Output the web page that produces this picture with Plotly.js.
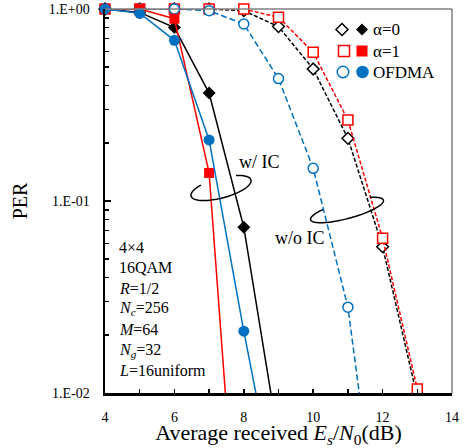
<!DOCTYPE html>
<html><head><meta charset="utf-8">
<script src="https://cdn.plot.ly/plotly-3.0.1.min.js"></script>
<style>html,body{margin:0;padding:0;background:#fff}</style>
</head><body><div id="c" style="width:465px;height:448px"></div>
<script>
// ---- data ----
const snrIC = [4, 5, 6, 7, 8, 9];
const alpha0_IC = [1, 0.96, 0.80, 0.365, 0.073, 0.0057];
const snrA1IC = [4, 5, 6, 7, 8];
const alpha1_IC = [1, 1, 0.89, 0.14, 0.0005];
const ofdma_IC = [1, 0.95, 0.687, 0.208, 0.021, 0.0025];
const snrNoIC = [4, 5, 6, 7, 8, 9, 10, 11, 12, 13];
const alpha0_noIC = [1, 1, 1, 1, 0.98, 0.81, 0.487, 0.212, 0.0578, 0.0095];
const alpha1_noIC = [1, 1, 1, 1, 1, 0.905, 0.595, 0.264, 0.064, 0.0105];
const snrOfdmaNoIC = [4, 5, 6, 7, 8, 9, 10, 11, 12];
const ofdma_noIC = [1, 1, 1, 0.98, 0.835, 0.434, 0.148, 0.028, 0.0012];
const yTickVals = [1, 0.1, 0.01];
const yTickText = ['1.E+00', '1.E-01', '1.E-02'];
const legendLabels = ['α=0', 'α=1', 'OFDMA'];
const paramLines = ['4×4', '16QAM', '<i>R</i>=1/2', '<i>N<sub>c</sub></i>=256', '<i>M</i>=64', '<i>N<sub>g</sub></i>=32', '<i>L</i>=16uniform'];

const BLUE = '#0070C0', RED = '#FF0000', BLACK = '#000000';
const YMIN = 0.01;
const FONT = 'Liberation Serif, Times New Roman, serif';

// plot area in pixels
const L = 105, R = 452, T = 9, B = 393, W = 465, H = 448;
const px = x => (x - L) / (R - L);
const py = y => (B - y) / (B - T);

function series(x, y, color, dash, symbol, filled, size) {
  const line = {x: x, y: y, mode: 'lines', type: 'scatter', showlegend: false, hoverinfo: 'skip',
    line: {color: color, width: 1.5, dash: dash}, cliponaxis: true};
  const mk = {x: x, y: y.map(v => v >= YMIN ? v : null), mode: 'markers', type: 'scatter', showlegend: false,
    cliponaxis: false,
    marker: {symbol: symbol, size: size, color: filled ? color : '#ffffff', line: {color: color, width: filled ? 0 : 1.5}}};
  return [line, mk];
}

const traces = [].concat(
  series(snrNoIC, alpha0_noIC, BLACK, '4px,2px', 'diamond', false, 9),
  series(snrNoIC, alpha1_noIC, RED, '4px,2px', 'square', false, 10),
  series(snrOfdmaNoIC, ofdma_noIC, BLUE, '6px,3px', 'circle', false, 10),
  series(snrIC, alpha0_IC, BLACK, 'solid', 'diamond', true, 10),
  series(snrA1IC, alpha1_IC, RED, 'solid', 'square', true, 10),
  series(snrIC, ofdma_IC, BLUE, 'solid', 'circle', true, 11)
);

// ellipse arc helper (pixel centre, semi-axes, tilt deg, start/end deg)
function arc(cx, cy, a, b, tilt, t0, t1) {
  const th = tilt * Math.PI / 180;
  const e1 = [Math.cos(th), -Math.sin(th)], e2 = [Math.sin(th), Math.cos(th)];
  let d = '';
  for (let i = 0; i <= 80; i++) {
    const t = (t0 + (t1 - t0) * i / 80) * Math.PI / 180;
    const X = cx + a * Math.cos(t) * e1[0] + b * Math.sin(t) * e2[0];
    const Y = cy + a * Math.cos(t) * e1[1] + b * Math.sin(t) * e2[1];
    d += (i ? 'L' : 'M') + px(X).toFixed(4) + ',' + py(Y).toFixed(4);
  }
  return {type: 'path', xref: 'paper', yref: 'paper', path: d, line: {color: 'black', width: 1.5}};
}

function rectShape(cx, cy, s, color, filled) {
  return {type: 'rect', xref: 'paper', yref: 'paper', x0: px(cx - s / 2), x1: px(cx + s / 2), y0: py(cy + s / 2), y1: py(cy - s / 2),
    line: {color: color, width: filled ? 0 : 1.5}, fillcolor: filled ? color : 'white'};
}
function circShape(cx, cy, s, color, filled) {
  return {type: 'circle', xref: 'paper', yref: 'paper', x0: px(cx - s / 2), x1: px(cx + s / 2), y0: py(cy + s / 2), y1: py(cy - s / 2),
    line: {color: color, width: filled ? 0 : 1.5}, fillcolor: filled ? color : 'white'};
}
function diaShape(cx, cy, s, color, filled) {
  const h = s / 2;
  const p = [[cx, cy - h], [cx + h, cy], [cx, cy + h], [cx - h, cy]];
  return {type: 'path', xref: 'paper', yref: 'paper',
    path: 'M' + p.map(q => px(q[0]).toFixed(4) + ',' + py(q[1]).toFixed(4)).join('L') + 'Z',
    line: {color: color, width: filled ? 0 : 1.5}, fillcolor: filled ? color : 'white'};
}

const shapes = [
  {type: 'line', xref: 'paper', yref: 'paper', x0: 0, x1: 1, y0: 1, y1: 1, line: {color: '#808080', width: 1.5}},
  {type: 'line', xref: 'paper', yref: 'paper', x0: 1, x1: 1, y0: 0, y1: 1, line: {color: '#808080', width: 1.5}},
  arc(221, 188, 31, 10, 15, -55, 233),
  arc(347, 210, 37.7, 8.5, 15, -48, 232),
  diaShape(342, 29.5, 12, BLACK, false), diaShape(362, 29.5, 12, BLACK, true),
  rectShape(344, 51, 11, RED, false), rectShape(362, 51, 11, RED, true),
  circShape(343, 72, 11.5, BLUE, false), circShape(362.5, 72, 12.5, BLUE, true)
];

const annotations = [];
const legY = [29.5, 51, 72];
legendLabels.forEach((t, i) => annotations.push({xref: 'paper', yref: 'paper', x: px(371), y: py(legY[i]), xanchor: 'left', yanchor: 'middle',
  text: t, showarrow: false, font: {family: FONT, size: 17, color: 'black'}}));
paramLines.forEach((t, i) => annotations.push({xref: 'paper', yref: 'paper', x: px(117), y: py(247 + i * 20.6), xanchor: 'left', yanchor: 'middle',
  text: t, showarrow: false, font: {family: FONT, size: 16, color: 'black'}}));
annotations.push({xref: 'paper', yref: 'paper', x: px(259), y: py(162), xanchor: 'center', yanchor: 'middle', text: 'w/ IC', showarrow: false,
  font: {family: FONT, size: 18, color: 'black'}});
annotations.push({xref: 'paper', yref: 'paper', x: px(299.5), y: py(238), xanchor: 'center', yanchor: 'middle', text: 'w/o IC', showarrow: false,
  font: {family: FONT, size: 18, color: 'black'}});

const layout = {
  width: W, height: H,
  margin: {l: L, r: W - R, t: T, b: H - B},
  paper_bgcolor: 'white', plot_bgcolor: 'white',
  font: {family: FONT, color: 'black'},
  showlegend: false,
  xaxis: {range: [4, 14], dtick: 2, tick0: 4, showgrid: false, zeroline: false,
    showline: true, linecolor: 'black', linewidth: 2.5,
    ticks: 'inside', ticklen: 4, tickwidth: 1.5, tickcolor: 'black', ticklabelstandoff: 10,
    minor: {dtick: 1, ticks: 'inside', ticklen: 4, tickwidth: 1.5, tickcolor: 'black', showgrid: false},
    tickfont: {family: FONT, size: 14, color: 'black'},
    title: {text: 'Average received <i>E<sub>s</sub></i>/<i>N</i><sub>0</sub>(dB)', font: {family: FONT, size: 22, color: 'black'}, standoff: 0}},
  yaxis: {type: 'log', range: [-2, 0], showgrid: false, zeroline: false,
    showline: true, linecolor: 'black', linewidth: 2.5,
    tickmode: 'array', tickvals: yTickVals, ticktext: yTickText,
    ticks: 'inside', ticklen: 6, tickwidth: 1.5, tickcolor: 'black', ticklabelstandoff: 10,
    minor: {tickmode: 'array', tickvals: [0.02,0.03,0.04,0.05,0.06,0.07,0.08,0.09,0.2,0.3,0.4,0.5,0.6,0.7,0.8,0.9],
      ticks: 'inside', ticklen: 4, tickwidth: 1.5, tickcolor: 'black', showgrid: false},
    tickfont: {family: FONT, size: 14, color: 'black'},
    title: {text: 'PER', font: {family: FONT, size: 20, color: 'black'}, standoff: 16}},
  shapes: shapes,
  annotations: annotations
};

Plotly.newPlot('c', traces, layout, {displayModeBar: false, staticPlot: true});
</script></body></html>
